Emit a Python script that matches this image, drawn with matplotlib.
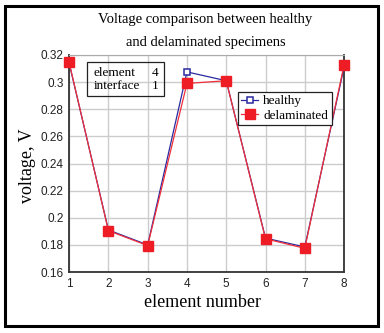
import matplotlib
matplotlib.use("Agg")
import matplotlib.pyplot as plt
from matplotlib.patches import Rectangle
from matplotlib.ticker import FuncFormatter

elements = [1, 2, 3, 4, 5, 6, 7, 8]
healthy = [0.314, 0.191, 0.180, 0.3075, 0.301, 0.185, 0.1785, 0.311]
delaminated = [0.3145, 0.1905, 0.1795, 0.299, 0.301, 0.1845, 0.1775, 0.3125]
yticks = [0.16, 0.18, 0.2, 0.22, 0.24, 0.26, 0.28, 0.3, 0.32]

serif = "Liberation Serif"
sans = "Liberation Sans"

fig = plt.figure(figsize=(3.84, 3.33), dpi=100)
fig.patch.set_facecolor("white")
fig.patches.append(Rectangle((0.014, 0.021), 0.970, 0.962, transform=fig.transFigure,
                             fill=False, edgecolor="black", linewidth=2.2))

ax = fig.add_axes([0.180, 0.183, 0.716, 0.652])
ax.plot(elements, healthy, color="#2a2aa0", linewidth=0.9, marker="s", markersize=4.2,
        markerfacecolor="white", markeredgecolor="#2a2aa0", markeredgewidth=1.1,
        label="healthy", clip_on=False, zorder=3)
ax.plot(elements, delaminated, color="#f0303a", linewidth=0.9, marker="s", markersize=6.5,
        markerfacecolor="#ee1c24", markeredgecolor="#ee1c24", label="delaminated",
        clip_on=False, zorder=4)

ax.set_xlim(1, 8)
ax.set_ylim(0.16, 0.32)
ax.set_xticks(elements)
ax.set_yticks(yticks)
ax.yaxis.set_major_formatter(FuncFormatter(lambda v, p: "{:g}".format(round(v, 2))))
ax.grid(True, color="#cccccc", linewidth=1.0)
ax.set_axisbelow(True)
ax.tick_params(length=0, pad=4, labelsize=8.5)
for lab in ax.get_xticklabels() + ax.get_yticklabels():
    lab.set_family(sans)
    lab.set_color("#222222")
for side in ["left", "bottom", "right"]:
    ax.spines[side].set_color("#333333")
    ax.spines[side].set_linewidth(1.3)
ax.spines["top"].set_color("#aaaaaa")
ax.spines["top"].set_linewidth(0.8)

fig.text(0.535, 0.940, "Voltage comparison between healthy", ha="center", va="center",
         family=serif, fontsize=10.5)
fig.text(0.535, 0.873, "and delaminated specimens", ha="center", va="center",
         family=serif, fontsize=10.5)
fig.text(0.527, 0.092, "element number", ha="center", va="center", family=serif, fontsize=13)
fig.text(0.072, 0.502, "voltage, V", ha="center", va="center", rotation=90,
         family=serif, fontsize=13)

leg = ax.legend(loc="upper left", bbox_to_anchor=(0.613, 0.83), prop={"family": serif, "size": 9.5},
                frameon=True, fancybox=False, edgecolor="#222222", framealpha=1,
                handlelength=1.3, handletextpad=0.4, borderpad=0.25, labelspacing=0.15,
                borderaxespad=0)
leg.get_frame().set_linewidth(0.9)
leg.set_zorder(6)

ax.add_patch(Rectangle((0.066, 0.81), 0.28, 0.157, transform=ax.transAxes, fill=False,
                       edgecolor="#222222", linewidth=0.9, zorder=5))
ax.text(0.09, 0.915, "element", transform=ax.transAxes, family=serif, fontsize=9.5, va="center")
ax.text(0.09, 0.855, "interface", transform=ax.transAxes, family=serif, fontsize=9.5, va="center")
ax.text(0.30, 0.915, "4", transform=ax.transAxes, family=serif, fontsize=9.5, va="center")
ax.text(0.30, 0.855, "1", transform=ax.transAxes, family=serif, fontsize=9.5, va="center")

fig.savefig("out.png", dpi=100)
